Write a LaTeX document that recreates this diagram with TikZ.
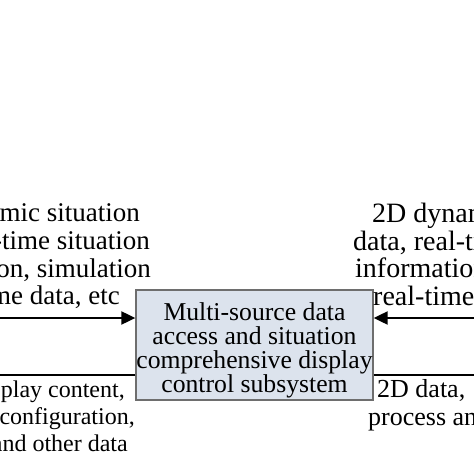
\documentclass[tikz,border=0pt]{standalone}
\usepackage{fontspec}
\setmainfont{Liberation Serif}
\usetikzlibrary{arrows.meta}
\definecolor{boxgray}{HTML}{6E6E6E}
\definecolor{boxfill}{HTML}{DCE3ED}
\begin{document}
\begin{tikzpicture}[x=1pt,y=-1pt,
  sys/.style={draw=boxgray, line width=1.3pt, fill=boxfill, minimum width=237pt, minimum height=110pt, align=center, inner sep=0pt, font=\fontsize{25.7}{24}\selectfont},
  side/.style={inner sep=0pt, font=\fontsize{27}{28}\selectfont},
  sideR/.style={inner sep=0pt, font=\fontsize{28}{28}\selectfont},
  sideB/.style={inner sep=0pt, font=\fontsize{24}{27}\selectfont},
  sideBR/.style={inner sep=0pt, font=\fontsize{26}{27}\selectfont},
  flow/.style={line width=2pt, -{Triangle[length=14pt,width=13pt]}},
  link/.style={line width=2pt}]
\useasboundingbox (0,0) rectangle (474,474);
\clip (0,0) rectangle (474,474);
\fill[white] (0,0) rectangle (474,474);
\node[sys] (sys) at (254.5,345) {\rule{0pt}{27.6pt}Multi-source data\\access and situation\\comprehensive display\\control subsystem};
\coordinate (inL) at (-5,318);
\coordinate (inR) at (479,318);
\coordinate (outL) at (-5,375);
\coordinate (outR) at (479,375);
\draw[flow] (inL) -- (inL -| sys.west);
\draw[flow] (inR) -- (inR -| sys.east);
\draw[link] (outL -| sys.west) -- (outL);
\draw[link] (outR -| sys.east) -- (outR);
% left upper text
\node[side, anchor=base east] (l1) at (140,221) {dynamic situation};
\node[side, anchor=base east] (l2) at (150,249) {real-time situation};
\node[side, anchor=base east] (l3) at (151,277) {information, simulation};
\node[side, anchor=base east] (l4) at (120,304) {real-time data, etc};
% right upper text
\node[sideR, anchor=base west] (r1) at (372,222) {2D dynamic};
\node[sideR, anchor=base west] (r2) at (353,250) {data, real-time};
\node[sideR, anchor=base west] (r3) at (355,277) {information,};
\node[sideR, anchor=base west] (r4) at (373,305) {real-time};
% left lower text
\node[sideB, anchor=base east] (b1) at (125,397) {display content,};
\node[sideB, anchor=base east] (b2) at (135,424) {display configuration,};
\node[sideB, anchor=base east] (b3) at (128,451) {and other data};
% right lower text
\node[sideBR, anchor=base west] (c1) at (377,397) {2D data,};
\node[sideBR, anchor=base west] (c2) at (368,425) {process and};
\end{tikzpicture}
\end{document}
